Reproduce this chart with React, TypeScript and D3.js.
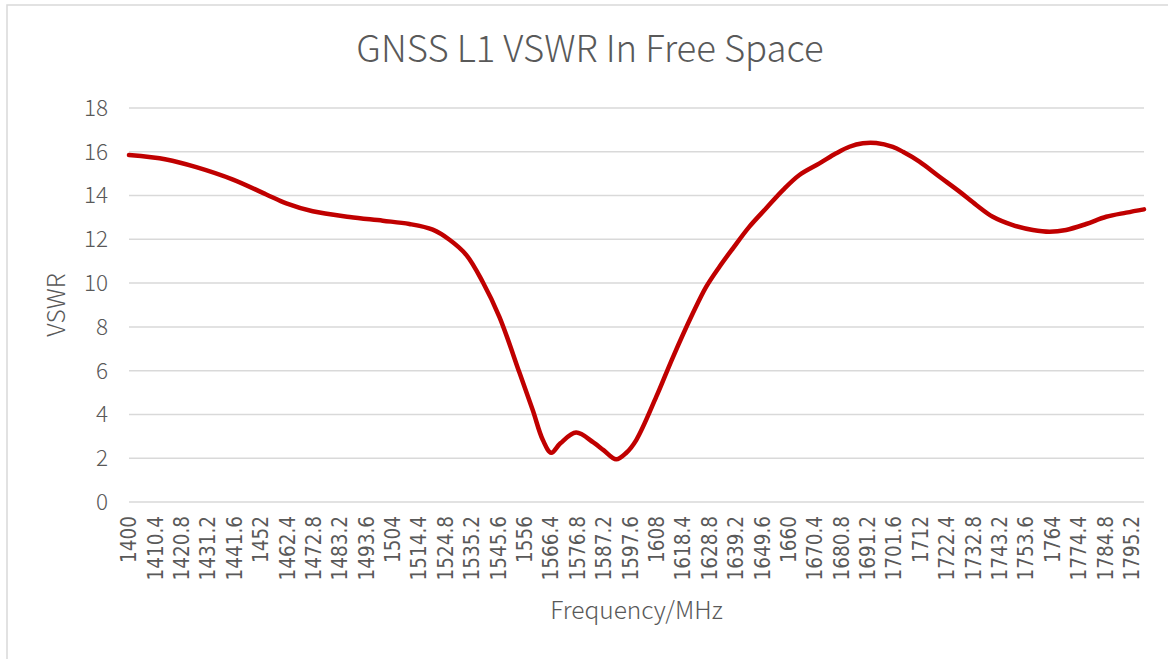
import React from 'react';
import * as d3 from 'd3';

// values
const freqs = [1400, 1414.7, 1426.5, 1441, 1454.1, 1462, 1472.4, 1486.9, 1500, 1510.5, 1519.7, 1526.3, 1532.9, 1539.4, 1546, 1553.9, 1559.1, 1563.1, 1566.4, 1570, 1576.2, 1583, 1587, 1592, 1596, 1599.9, 1607.8, 1614.3, 1622.2, 1627.5, 1632.7, 1638, 1644.5, 1651.1, 1657.7, 1664.2, 1672.1, 1678.7, 1683.9, 1689.2, 1694.5, 1701, 1705, 1711.5, 1719.4, 1727.3, 1733.9, 1740.4, 1748.3, 1756.2, 1762.8, 1769.3, 1777.2, 1785.1, 1793, 1800];
const vswr = [15.85, 15.65, 15.3, 14.73, 14.05, 13.64, 13.28, 13.02, 12.85, 12.7, 12.44, 11.98, 11.29, 10.05, 8.45, 5.9, 4.2, 2.83, 2.25, 2.68, 3.17, 2.72, 2.37, 1.95, 2.25, 2.83, 4.81, 6.6, 8.62, 9.84, 10.75, 11.59, 12.58, 13.42, 14.25, 14.94, 15.47, 15.93, 16.23, 16.39, 16.4, 16.22, 16.0, 15.55, 14.86, 14.18, 13.57, 13.03, 12.65, 12.43, 12.35, 12.43, 12.7, 13.03, 13.22, 13.37];
const xLabels = ['1400', '1410.4', '1420.8', '1431.2', '1441.6', '1452', '1462.4', '1472.8', '1483.2', '1493.6', '1504', '1514.4', '1524.8', '1535.2', '1545.6', '1556', '1566.4', '1576.8', '1587.2', '1597.6', '1608', '1618.4', '1628.8', '1639.2', '1649.6', '1660', '1670.4', '1680.8', '1691.2', '1701.6', '1712', '1722.4', '1732.8', '1743.2', '1753.6', '1764', '1774.4', '1784.8', '1795.2'];
const yTicks = [0, 2, 4, 6, 8, 10, 12, 14, 16, 18];

const W = 1168, H = 659;
const left = 129, right = 1144, top = 108, bottom = 502;
const textFont = '"Noto Sans CJK SC", "Noto Sans", sans-serif';
const grey = '#595959';

export default function App() {
  const x = d3.scaleLinear().domain([1400, 1800]).range([left, right]);
  const y = d3.scaleLinear().domain([0, 18]).range([bottom, top]);

  const pts = freqs.map((f, i) => [f, vswr[i]] as [number, number]);
  const line = d3.line<[number, number]>()
    .x(d => x(d[0]))
    .y(d => y(d[1]))
    .curve(d3.curveCatmullRom.alpha(0.5));

  return (
    <svg width={W} height={H} style={{ position: 'absolute', left: 0, top: 0, background: '#fff' }}>
      <rect x={7} y={5} width={1200} height={700} fill="#fff" stroke="#d9d9d9" strokeWidth={1.5} />

      <text x={590} y={62} textAnchor="middle" fontFamily={textFont} fontWeight={300}
        fontSize={36.5} fill={grey}>GNSS L1 VSWR In Free Space</text>

      {yTicks.map(t => (
        <g key={t}>
          <line x1={left} x2={right} y1={y(t)} y2={y(t)} stroke="#d9d9d9" strokeWidth={1.5} />
          <text x={108} y={y(t)} dy="0.35em" textAnchor="end" fontFamily={textFont}
            fontWeight={300} fontSize={22.5} fill={grey}>{t}</text>
        </g>
      ))}

      {xLabels.map(l => (
        <text key={l} transform={`translate(${x(+l)},516) rotate(-90)`} dy="0.35em"
          textAnchor="end" fontFamily='"DejaVu Sans Condensed", "DejaVu Sans", sans-serif'
          fontSize={20.5} fill={grey}>{l}</text>
      ))}

      <path d={line(pts) || ''} fill="none" stroke="#c00000" strokeWidth={4.5}
        strokeLinecap="round" strokeLinejoin="round" />

      <text transform={`translate(56,${(top + bottom) / 2}) rotate(-90)`} dy="0.35em"
        textAnchor="middle" fontFamily={textFont} fontWeight={300} fontSize={24.5} fill={grey}>VSWR</text>
      <text x={(left + right) / 2} y={619} textAnchor="middle" fontFamily={textFont}
        fontWeight={300} fontSize={24.5} fill={grey}>Frequency/MHz</text>
    </svg>
  );
}
